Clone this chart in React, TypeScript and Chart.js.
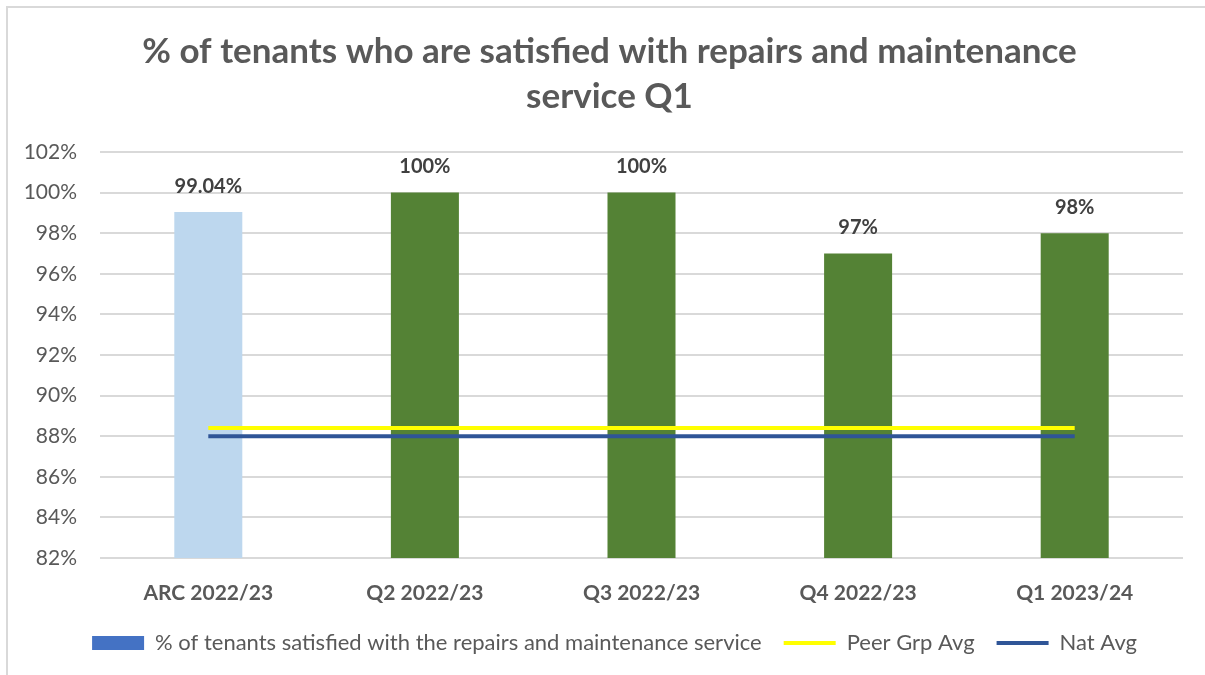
import React, { useEffect, useRef } from "react";
import { Chart, registerables } from "chart.js";

Chart.register(...registerables);

const categories = ["ARC 2022/23", "Q2 2022/23", "Q3 2022/23", "Q4 2022/23", "Q1 2023/24"];
const satisfiedValues = [99.04, 100, 100, 97, 98];
const satisfiedLabels = ["99.04%", "100%", "100%", "97%", "98%"];
const peerGroupAvg = [88.4, 88.4, 88.4, 88.4, 88.4];
const nationalAvg = [88, 88, 88, 88, 88];
const barColors = ["#BDD7EE", "#548235", "#548235", "#548235", "#548235"];
const titleLines = ["% of tenants who are satisfied with repairs and maintenance", "service Q1"];
const legendNames = [
  "% of tenants satisfied with the repairs and maintenance service",
  "Peer Grp Avg",
  "Nat Avg",
];

const FONT = "Lato, 'Open Sans', sans-serif";
const TEXT = "#595959";

const dataLabelPlugin = {
  id: "barValueLabels",
  afterLayout(chart: any) {
    // nudge title and legend to the reference's horizontal centring
    if (chart.titleBlock) {
      chart.titleBlock.left += 18;
      chart.titleBlock.right += 18;
    }
    if (chart.legend) {
      chart.legend.left += 23;
      chart.legend.right += 23;
    }
  },
  afterDatasetsDraw(chart: any) {
    const meta = chart.getDatasetMeta(0);
    const ctx = chart.ctx;
    ctx.save();
    ctx.font = `bold 20px ${FONT}`;
    ctx.fillStyle = "#404040";
    ctx.textAlign = "center";
    ctx.textBaseline = "middle";
    meta.data.forEach((el: any, i: number) => {
      ctx.fillText(satisfiedLabels[i], el.x, el.y - 26);
    });
    ctx.restore();
  },
};

export default function App() {
  const ref = useRef<HTMLCanvasElement>(null);

  useEffect(() => {
    document.body.style.margin = "0";
    const chart = new Chart(ref.current!, {
      type: "bar",
      data: {
        labels: categories,
        datasets: [
          {
            type: "bar",
            label: legendNames[0],
            data: satisfiedValues,
            backgroundColor: barColors,
            categoryPercentage: 1,
            barPercentage: 0.314,
            order: 3,
          },
          {
            type: "line",
            label: legendNames[1],
            data: peerGroupAvg,
            borderColor: "#FFFF00",
            backgroundColor: "#FFFF00",
            borderWidth: 4,
            pointRadius: 0,
            order: 2,
          },
          {
            type: "line",
            label: legendNames[2],
            data: nationalAvg,
            borderColor: "#2F5597",
            backgroundColor: "#2F5597",
            borderWidth: 4,
            pointRadius: 0,
            order: 1,
          },
        ] as any,
      },
      options: {
        animation: false,
        responsive: false,
        layout: { padding: { left: 0, right: 22, top: 0, bottom: 11 } },
        scales: {
          x: {
            offset: true,
            grid: { display: false },
            border: { display: false },
            ticks: {
              color: TEXT,
              padding: 15,
              font: { family: FONT, size: 21, weight: "bold" },
            },
            afterFit(scale: any) {
              scale.height = 52;
            },
          },
          y: {
            min: 82,
            max: 102,
            grid: { color: "#D9D9D9", lineWidth: 2, drawTicks: false },
            border: { display: false },
            ticks: {
              stepSize: 2,
              color: TEXT,
              padding: 23,
              font: { family: FONT, size: 21 },
              callback: (v: any) => `${v}%`,
            },
            afterFit(scale: any) {
              scale.width = 100;
            },
          },
        },
        plugins: {
          title: {
            display: true,
            text: titleLines,
            color: TEXT,
            font: { family: FONT, size: 35, weight: "bold", lineHeight: 45 / 35 },
            padding: { top: 29.5, bottom: 32.5 },
          },
          tooltip: { enabled: false },
          legend: {
            position: "bottom",
            labels: {
              color: TEXT,
              font: { family: FONT, size: 22 },
              padding: 22,
              usePointStyle: true,
              pointStyleWidth: 52,
              boxHeight: 14,
              generateLabels: () => [
                {
                  text: legendNames[0],
                  fillStyle: "#4472C4",
                  strokeStyle: "#4472C4",
                  lineWidth: 0,
                  pointStyle: "rect",
                  datasetIndex: 0,
                  fontColor: TEXT,
                },
                {
                  text: legendNames[1],
                  fillStyle: "#FFFF00",
                  strokeStyle: "#FFFF00",
                  lineWidth: 4,
                  pointStyle: "line",
                  datasetIndex: 1,
                  fontColor: TEXT,
                },
                {
                  text: legendNames[2],
                  fillStyle: "#2F5597",
                  strokeStyle: "#2F5597",
                  lineWidth: 4,
                  pointStyle: "line",
                  datasetIndex: 2,
                  fontColor: TEXT,
                },
              ] as any,
            },
          },
        },
      } as any,
      plugins: [dataLabelPlugin],
    });
    return () => chart.destroy();
  }, []);

  return (
    <div style={{ position: "relative", width: 1205, height: 675, overflow: "hidden", background: "#fff" }}>
      <div
        style={{
          position: "absolute",
          left: 6,
          top: 6,
          width: 1400,
          height: 900,
          border: "2px solid #D9D9D9",
          boxSizing: "border-box",
        }}
      />
      <canvas ref={ref} width={1205} height={675} style={{ position: "absolute", left: 0, top: 0 }} />
    </div>
  );
}
